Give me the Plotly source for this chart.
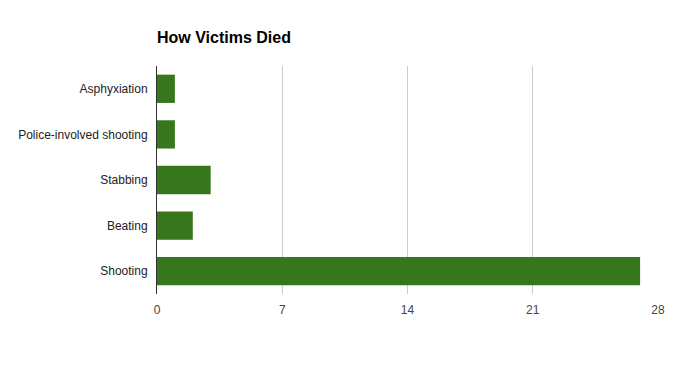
import plotly.graph_objects as go

categories = ["Asphyxiation", "Police-involved shooting", "Stabbing", "Beating", "Shooting"]
values = [1, 1, 3, 2, 27]
tick_vals = [0, 7, 14, 21, 28]

# page body has an 8px default margin; compensate in figure size/margins
W, H = 669, 363

fig = go.Figure(go.Bar(
    x=values, y=categories, orientation="h",
    marker=dict(color="#38761d", line=dict(width=0)),
    width=0.62,
))

fig.update_layout(
    width=W, height=H,
    margin=dict(l=149, r=19, t=58, b=77),
    paper_bgcolor="white", plot_bgcolor="white",
    font=dict(family="Arial, Liberation Sans, sans-serif", size=12, color="#222"),
    title=dict(text="<b>How Victims Died</b>", x=149/W, xanchor="left", xref="container",
               y=1 - 29/H, yanchor="middle", yref="container",
               font=dict(size=16, color="#000")),
    showlegend=False,
)
fig.update_xaxes(range=[0, 28], tickvals=tick_vals, showgrid=True, gridcolor="#cccccc",
                 gridwidth=1, zeroline=False, showline=False, ticks="",
                 ticklabelstandoff=7,
                 tickfont=dict(color="#444", size=12), fixedrange=True, automargin=False)
fig.update_yaxes(autorange="reversed", showline=True, linecolor="#333", linewidth=1,
                 ticks="", ticklabelstandoff=6, showgrid=False,
                 tickfont=dict(color="#222", size=12), fixedrange=True, automargin=False)

fig.write_html("out.html")
